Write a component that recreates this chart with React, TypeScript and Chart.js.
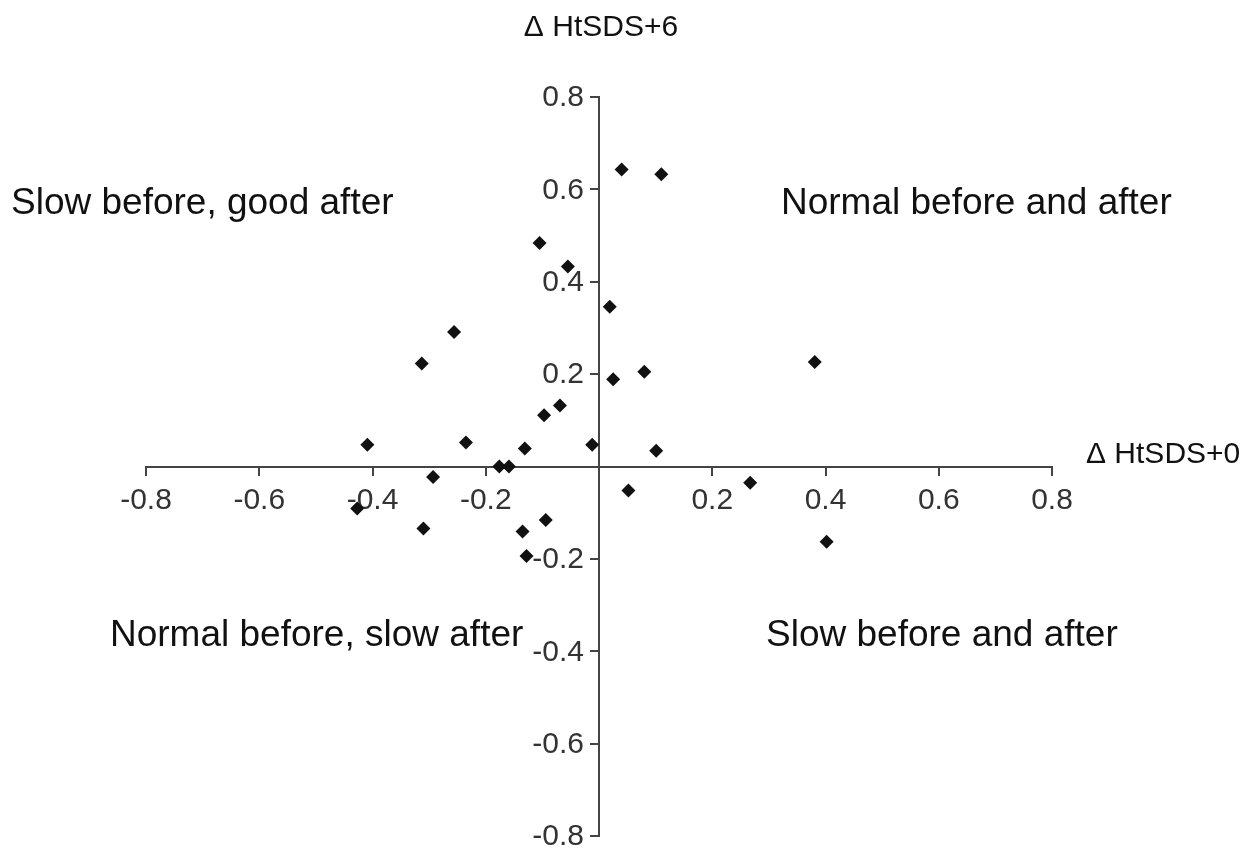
import React, { useEffect, useRef } from "react";
import { Chart, registerables } from "chart.js";

Chart.register(...registerables);

// Δ HtSDS+0 (x) and Δ HtSDS+6 (y) for each child
const xValues = [0.040, 0.110, -0.105, -0.055, 0.019, -0.256, -0.313, 0.025, 0.080, 0.381, -0.069, -0.097, -0.409, -0.235, -0.131, -0.012, 0.101, -0.176, -0.159, -0.293, 0.052, 0.267, -0.427, -0.310, -0.094, -0.135, -0.128, 0.402];
const yValues = [0.643, 0.633, 0.484, 0.433, 0.346, 0.291, 0.223, 0.189, 0.205, 0.226, 0.132, 0.111, 0.047, 0.052, 0.039, 0.047, 0.034, 0.000, 0.000, -0.023, -0.052, -0.035, -0.091, -0.134, -0.116, -0.141, -0.194, -0.163];

const axisMin = -0.8;
const axisMax = 0.8;
const axisStep = 0.2;

const xTitle = "\u0394 HtSDS+0";
const yTitle = "\u0394 HtSDS+6";
const quadrantLabels = [
  "Slow before, good after",
  "Normal before and after",
  "Normal before, slow after",
  "Slow before and after",
];

const FONT = "'Liberation Sans', Arial, Helvetica, sans-serif";

const tickFmt = (v: any) => {
  const n = Number(v);
  if (Math.abs(n) < 1e-9) return "";
  return n.toFixed(1);
};

const textPlugin = {
  id: "quadrantText",
  afterDatasetsDraw(chart: any) {
    const ctx = chart.ctx as CanvasRenderingContext2D;
    const xs = chart.scales.x;
    const ys = chart.scales.y;
    const x0 = xs.getPixelForValue(0);
    const y0 = ys.getPixelForValue(0);
    ctx.save();
    // y tick labels, left of the centred axis
    ctx.fillStyle = "#333";
    ctx.font = `30px ${FONT}`;
    ctx.textAlign = "right";
    ctx.textBaseline = "middle";
    ys.ticks.forEach((t: any) => {
      const s = tickFmt(t.value);
      if (!s) return;
      ctx.fillText(s, x0 - 15, ys.getPixelForValue(t.value) + 1);
    });
    ctx.restore();
  },
  afterDraw(chart: any) {
    const ctx = chart.ctx as CanvasRenderingContext2D;
    const xs = chart.scales.x;
    const ys = chart.scales.y;
    const x0 = xs.getPixelForValue(0);
    const y0 = ys.getPixelForValue(0);
    ctx.save();
    ctx.fillStyle = "#111";
    ctx.textBaseline = "alphabetic";
    ctx.font = `30px ${FONT}`;
    ctx.textAlign = "center";
    ctx.fillText(yTitle, x0 + 2, 36);
    ctx.textAlign = "left";
    ctx.fillText(xTitle, 1086, y0 - 4);
    ctx.font = `37px ${FONT}`;
    const pos = [
      [11, 214],
      [781, 214],
      [110, 646],
      [766, 646],
    ];
    quadrantLabels.forEach((t, i) => {
      ctx.fillText(t, pos[i][0], pos[i][1]);
    });
    ctx.restore();
  },
};

export default function App() {
  const canvasRef = useRef<HTMLCanvasElement | null>(null);

  useEffect(() => {
    if (!canvasRef.current) return;
    Chart.defaults.font.family = FONT;
    const points = xValues.map((x, i) => ({ x, y: yValues[i] }));
    const zeroPad = (scale: any) => {
      scale.paddingLeft = 0;
      scale.paddingRight = 0;
      scale.paddingTop = 0;
      scale.paddingBottom = 0;
    };
    const chart = new Chart(canvasRef.current, {
      type: "scatter",
      data: {
        datasets: [
          {
            data: points,
            pointStyle: "rectRot",
            pointRadius: 7,
            pointHoverRadius: 7,
            backgroundColor: "#111",
            borderColor: "#111",
            borderWidth: 0,
          },
        ],
      },
      options: {
        animation: false,
        responsive: false,
        maintainAspectRatio: false,
        layout: { padding: { left: 146, right: 197, top: 97, bottom: 15 } },
        plugins: {
          legend: { display: false },
          tooltip: { enabled: false },
          title: { display: false },
        },
        scales: {
          x: {
            type: "linear",
            position: { y: 0 } as any,
            min: axisMin,
            max: axisMax,
            afterFit: zeroPad,
            ticks: {
              stepSize: axisStep,
              callback: tickFmt,
              color: "#333",
              font: { size: 30 },
              padding: 8,
              maxRotation: 0,
              autoSkip: false,
            },
            grid: {
              drawOnChartArea: false,
              drawTicks: true,
              tickLength: 8,
              color: "#444",
              lineWidth: 2,
            },
            border: { display: true, color: "#444", width: 2 },
          },
          y: {
            type: "linear",
            position: { x: 0 } as any,
            min: axisMin,
            max: axisMax,
            afterFit: zeroPad,
            ticks: {
              stepSize: axisStep,
              display: false,
              autoSkip: false,
            },
            grid: {
              drawOnChartArea: false,
              drawTicks: true,
              tickLength: 8,
              color: "#444",
              lineWidth: 2,
            },
            border: { display: true, color: "#444", width: 2 },
          },
        },
      },
      plugins: [textPlugin],
    });
    return () => chart.destroy();
  }, []);

  return (
    <div style={{ position: "fixed", left: 0, top: 0, width: 1249, height: 851, background: "#fff" }}>
      <canvas ref={canvasRef} width={1249} height={851} style={{ display: "block" }} />
    </div>
  );
}
